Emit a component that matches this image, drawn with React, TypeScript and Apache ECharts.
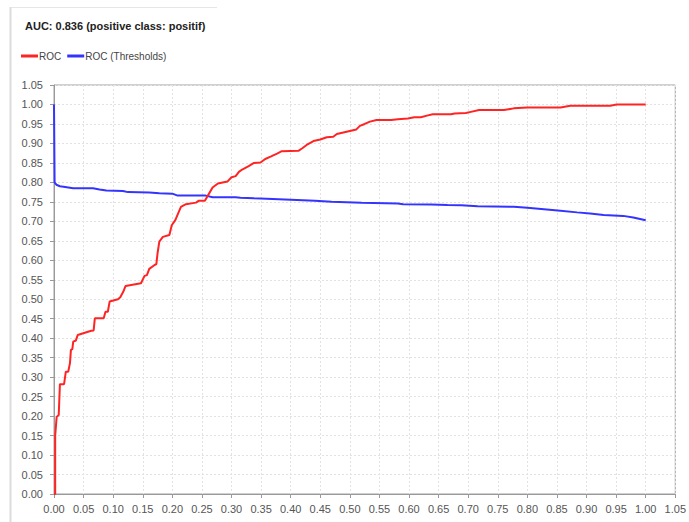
import React, { useEffect, useRef } from "react";
import * as echarts from "echarts";

const titleText = "AUC: 0.836 (positive class: positif)";
const seriesNames = ["ROC", "ROC (Thresholds)"];
const axisTicks = [0, 1.05, 0.05];

const rocX = [0.0, 0.002, 0.002, 0.0045, 0.008, 0.01, 0.017, 0.02, 0.024, 0.027, 0.0286, 0.031, 0.0325, 0.037, 0.04, 0.063, 0.067, 0.069, 0.084, 0.087, 0.091, 0.094, 0.108, 0.112, 0.117, 0.121, 0.147, 0.153, 0.157, 0.161, 0.17, 0.173, 0.175, 0.178, 0.184, 0.195, 0.199, 0.205, 0.2145, 0.223, 0.24, 0.245, 0.255, 0.26, 0.268, 0.277, 0.293, 0.3, 0.307, 0.3125, 0.318, 0.329, 0.338, 0.349, 0.357, 0.366, 0.377, 0.385, 0.413, 0.419, 0.427, 0.4385, 0.45, 0.461, 0.472, 0.478, 0.489, 0.5, 0.511, 0.517, 0.525, 0.534, 0.545, 0.57, 0.581, 0.598, 0.609, 0.62, 0.632, 0.64, 0.671, 0.677, 0.696, 0.7045, 0.7185, 0.7606, 0.777, 0.8, 0.856, 0.8725, 0.94, 0.951, 1.0];
const rocY = [0.0, 0.0, 0.15, 0.198, 0.203, 0.282, 0.282, 0.314, 0.314, 0.336, 0.37, 0.372, 0.391, 0.394, 0.408, 0.419, 0.42, 0.451, 0.451, 0.468, 0.468, 0.494, 0.5, 0.505, 0.519, 0.534, 0.541, 0.56, 0.562, 0.578, 0.588, 0.59, 0.618, 0.648, 0.66, 0.665, 0.69, 0.703, 0.737, 0.744, 0.748, 0.753, 0.753, 0.766, 0.787, 0.797, 0.802, 0.813, 0.816, 0.827, 0.833, 0.842, 0.85, 0.851, 0.86, 0.866, 0.874, 0.88, 0.881, 0.887, 0.896, 0.906, 0.91, 0.916, 0.917, 0.924, 0.928, 0.932, 0.936, 0.945, 0.95, 0.956, 0.96, 0.96, 0.962, 0.964, 0.967, 0.967, 0.972, 0.975, 0.975, 0.977, 0.978, 0.981, 0.9856, 0.9856, 0.99, 0.9925, 0.9925, 0.9966, 0.9966, 1.0, 1.0];

const thrX = [0.0, 0.001, 0.004, 0.01, 0.016, 0.0325, 0.066, 0.077, 0.0885, 0.1165, 0.125, 0.161, 0.178, 0.2, 0.209, 0.2565, 0.268, 0.307, 0.315, 0.338, 0.38, 0.441, 0.469, 0.52, 0.581, 0.59, 0.637, 0.665, 0.688, 0.716, 0.777, 0.8, 0.828, 0.856, 0.884, 0.906, 0.929, 0.962, 0.979, 1.0];
const thrY = [1.0, 0.8, 0.794, 0.79, 0.789, 0.785, 0.785, 0.782, 0.779, 0.778, 0.775, 0.774, 0.772, 0.771, 0.766, 0.766, 0.762, 0.762, 0.7605, 0.759, 0.757, 0.753, 0.75, 0.748, 0.746, 0.744, 0.7435, 0.742, 0.741, 0.739, 0.7375, 0.735, 0.731, 0.727, 0.723, 0.72, 0.716, 0.714, 0.71, 0.703];

const FONT = "'Liberation Sans', Arial, sans-serif";

export default function App() {
  const ref = useRef<HTMLDivElement>(null);
  useEffect(() => {
    if (!ref.current) return;
    const chart = echarts.init(ref.current, undefined, { renderer: "svg" });
    const rocData = rocX.map((x, i) => [x, rocY[i]]);
    const thrData = thrX.map((x, i) => [x, thrY[i]]);
    const [amin, amax, step] = axisTicks;
    const axisCommon = {
      type: "value" as const,
      min: amin,
      max: amax,
      interval: step,
      offset: 5,
      axisLine: { show: true, lineStyle: { color: "#999", width: 1 } },
      axisTick: { show: true, inside: false, length: 4, lineStyle: { color: "#999" } },
      splitLine: { show: true, lineStyle: { color: "#e2e2e2", type: [2, 2] as any, width: 1 } },
      axisLabel: {
        color: "#555",
        fontSize: 11,
        fontFamily: FONT,
        formatter: (v: number) => v.toFixed(2),
      },
    };
    chart.setOption({
      animation: false,
      backgroundColor: "#fff",
      textStyle: { fontFamily: FONT },
      title: {
        text: titleText,
        left: 20,
        top: 15,
        textStyle: { fontSize: 11, fontWeight: "bold", color: "#222", fontFamily: FONT },
      },
      legend: {
        left: 16,
        top: 46,
        itemWidth: 17,
        itemHeight: 3,
        itemGap: 6,
        icon: "rect",
        textStyle: { fontSize: 10, color: "#444", fontFamily: FONT, padding: [0, 0, 0, -4] },
        data: seriesNames,
      },
      grid: {
        left: 54,
        right: 10,
        top: 85,
        bottom: 28,
        show: true,
        borderColor: "#a0a0a0",
        borderWidth: 1,
        backgroundColor: "#fff",
      },
      xAxis: { ...axisCommon, axisLabel: { ...axisCommon.axisLabel, margin: 4 } },
      yAxis: { ...axisCommon, axisLabel: { ...axisCommon.axisLabel, margin: 6 } },
      graphic: [
        { type: "line", shape: { x1: 10.5, y1: 7, x2: 10.5, y2: 522 }, style: { stroke: "#dcdcdc", lineWidth: 2 }, silent: true },
        { type: "line", shape: { x1: 11, y1: 7.5, x2: 217, y2: 7.5 }, style: { stroke: "#e6e6e6", lineWidth: 1 }, silent: true },
      ],
      series: [
        {
          name: seriesNames[0],
          type: "line",
          data: rocData,
          showSymbol: false,
          symbol: "none",
          lineStyle: { color: "#ff2424", width: 2 },
          itemStyle: { color: "#ff2424" },
          z: 3,
        },
        {
          name: seriesNames[1],
          type: "line",
          data: thrData,
          showSymbol: false,
          symbol: "none",
          lineStyle: { color: "#3434ff", width: 2 },
          itemStyle: { color: "#3434ff" },
          z: 2,
        },
      ],
    });
    return () => chart.dispose();
  }, []);
  return (
    <div
      ref={ref}
      style={{ position: "absolute", left: 0, top: 0, width: 689, height: 522 }}
    />
  );
}
